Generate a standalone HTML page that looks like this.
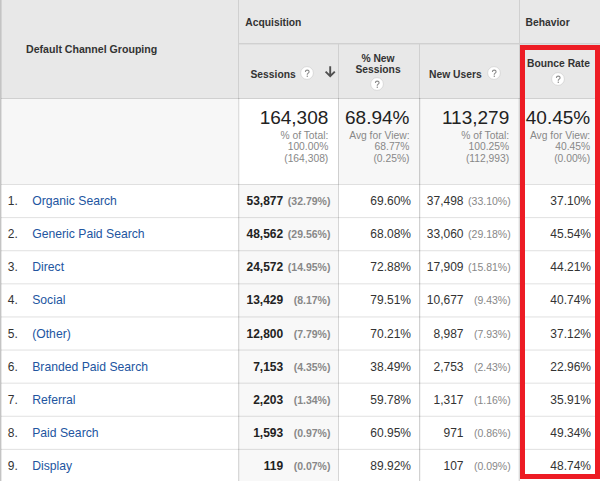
<!DOCTYPE html>
<html><head><meta charset="utf-8"><style>
html,body{margin:0;padding:0;}
body{width:600px;height:481px;position:relative;overflow:hidden;background:#fff;font-family:"Liberation Sans",sans-serif;}
.t{position:absolute;white-space:nowrap;}
</style></head><body>
<div style="position:absolute;left:0px;top:0px;width:600px;height:98px;background:#e8e8e8;"></div>
<div style="position:absolute;left:0px;top:98px;width:600px;height:86px;background:#f7f7f7;"></div>
<div style="position:absolute;left:238px;top:98px;width:100px;height:86px;background:#fff;"></div>
<div style="position:absolute;left:238px;top:184px;width:100px;height:297px;background:#f8f8f8;"></div>
<div style="position:absolute;left:238px;top:43px;width:362px;height:1px;background:#d0d0d0;"></div>
<div style="position:absolute;left:238px;top:44px;width:362px;height:1px;background:#dedede;"></div>
<div style="position:absolute;left:0px;top:98px;width:600px;height:1px;background:#d0d0d0;"></div>
<div style="position:absolute;left:238px;top:0px;width:1px;height:98px;background:#d0d0d0;"></div>
<div style="position:absolute;left:338px;top:44px;width:1px;height:54px;background:#d0d0d0;"></div>
<div style="position:absolute;left:419px;top:44px;width:1px;height:54px;background:#d0d0d0;"></div>
<div style="position:absolute;left:519px;top:0px;width:1px;height:98px;background:#d0d0d0;"></div>
<div style="position:absolute;left:238px;top:98px;width:1px;height:383px;background:rgba(0,0,0,0.13);"></div>
<div style="position:absolute;left:239px;top:98px;width:1px;height:383px;background:rgba(0,0,0,0.04);"></div>
<div style="position:absolute;left:338px;top:98px;width:1px;height:383px;background:rgba(0,0,0,0.16);"></div>
<div style="position:absolute;left:419px;top:98px;width:1px;height:383px;background:rgba(0,0,0,0.18);"></div>
<div style="position:absolute;left:420px;top:98px;width:1px;height:383px;background:rgba(0,0,0,0.04);"></div>
<div style="position:absolute;left:518px;top:98px;width:1px;height:383px;background:rgba(0,0,0,0.05);"></div>
<div style="position:absolute;left:519px;top:98px;width:1px;height:383px;background:rgba(0,0,0,0.14);"></div>
<div style="position:absolute;left:0px;top:184px;width:600px;height:1px;background:rgba(0,0,0,0.120);"></div>
<div style="position:absolute;left:0px;top:217px;width:600px;height:1px;background:rgba(0,0,0,0.107);"></div>
<div style="position:absolute;left:0px;top:218px;width:600px;height:1px;background:rgba(0,0,0,0.013);"></div>
<div style="position:absolute;left:0px;top:250px;width:600px;height:1px;background:rgba(0,0,0,0.094);"></div>
<div style="position:absolute;left:0px;top:251px;width:600px;height:1px;background:rgba(0,0,0,0.026);"></div>
<div style="position:absolute;left:0px;top:283px;width:600px;height:1px;background:rgba(0,0,0,0.080);"></div>
<div style="position:absolute;left:0px;top:284px;width:600px;height:1px;background:rgba(0,0,0,0.040);"></div>
<div style="position:absolute;left:0px;top:316px;width:600px;height:1px;background:rgba(0,0,0,0.067);"></div>
<div style="position:absolute;left:0px;top:317px;width:600px;height:1px;background:rgba(0,0,0,0.053);"></div>
<div style="position:absolute;left:0px;top:349px;width:600px;height:1px;background:rgba(0,0,0,0.054);"></div>
<div style="position:absolute;left:0px;top:350px;width:600px;height:1px;background:rgba(0,0,0,0.066);"></div>
<div style="position:absolute;left:0px;top:382px;width:600px;height:1px;background:rgba(0,0,0,0.041);"></div>
<div style="position:absolute;left:0px;top:383px;width:600px;height:1px;background:rgba(0,0,0,0.079);"></div>
<div style="position:absolute;left:0px;top:415px;width:600px;height:1px;background:rgba(0,0,0,0.028);"></div>
<div style="position:absolute;left:0px;top:416px;width:600px;height:1px;background:rgba(0,0,0,0.092);"></div>
<div style="position:absolute;left:0px;top:448px;width:600px;height:1px;background:rgba(0,0,0,0.014);"></div>
<div style="position:absolute;left:0px;top:449px;width:600px;height:1px;background:rgba(0,0,0,0.106);"></div>
<div style="position:absolute;left:0px;top:0px;width:1px;height:481px;background:#c4c4c4;"></div>
<div style="position:absolute;left:1px;top:0px;width:1px;height:481px;background:rgba(0,0,0,0.09);"></div>
<div class="t" style="left:26.00px;top:44.00px;font-size:10.6px;line-height:10.6px;font-weight:bold;color:#333;">Default Channel Grouping</div>
<div class="t" style="left:245.30px;top:18.00px;font-size:10.3px;line-height:10.3px;font-weight:bold;color:#333;">Acquisition</div>
<div class="t" style="left:525.60px;top:18.00px;font-size:10.3px;line-height:10.3px;font-weight:bold;color:#333;">Behavior</div>
<div class="t" style="left:250.50px;top:70.00px;font-size:10.3px;line-height:10.3px;font-weight:bold;color:#333;">Sessions</div>
<svg style="position:absolute;left:300.00px;top:65.70px" width="14" height="14" viewBox="-7 -7 14 14"><circle cx="0" cy="0" r="6.4" fill="#fff" stroke="#cfcfcf" stroke-width="0.7"/><g transform="translate(0.2,0.5) scale(0.95)"><path d="M-1.9,-1.6 C-1.9,-3.2 -0.9,-3.6 0,-3.6 C1.1,-3.6 2,-2.9 2,-1.8 C2,-0.6 0.3,-0.4 0.1,0.6 L0.1,1.3" fill="none" stroke="#8c8c8c" stroke-width="1.15"/><rect x="-0.55" y="2.2" width="1.3" height="1.4" fill="#8c8c8c"/></g></svg>
<svg style="position:absolute;left:324px;top:66px" width="12" height="12" viewBox="0 0 12 12"><path d="M6.2 0.2 V10 M1.6 5.6 L6.2 10.2 L10.8 5.6" stroke="#505050" stroke-width="1.9" fill="none"/></svg>
<div class="t" style="left:278.00px;width:200px;top:54.00px;font-size:10.3px;line-height:10.3px;font-weight:bold;color:#333;text-align:center;">% New</div>
<div class="t" style="left:278.00px;width:200px;top:65.00px;font-size:10.3px;line-height:10.3px;font-weight:bold;color:#333;text-align:center;">Sessions</div>
<svg style="position:absolute;left:370.00px;top:77.00px" width="14" height="14" viewBox="-7 -7 14 14"><circle cx="0" cy="0" r="6.4" fill="#fff" stroke="#cfcfcf" stroke-width="0.7"/><g transform="translate(0.2,0.5) scale(0.95)"><path d="M-1.9,-1.6 C-1.9,-3.2 -0.9,-3.6 0,-3.6 C1.1,-3.6 2,-2.9 2,-1.8 C2,-0.6 0.3,-0.4 0.1,0.6 L0.1,1.3" fill="none" stroke="#8c8c8c" stroke-width="1.15"/><rect x="-0.55" y="2.2" width="1.3" height="1.4" fill="#8c8c8c"/></g></svg>
<div class="t" style="left:429.00px;top:70.00px;font-size:10.3px;line-height:10.3px;font-weight:bold;color:#333;">New Users</div>
<svg style="position:absolute;left:487.00px;top:65.90px" width="14" height="14" viewBox="-7 -7 14 14"><circle cx="0" cy="0" r="6.4" fill="#fff" stroke="#cfcfcf" stroke-width="0.7"/><g transform="translate(0.2,0.5) scale(0.95)"><path d="M-1.9,-1.6 C-1.9,-3.2 -0.9,-3.6 0,-3.6 C1.1,-3.6 2,-2.9 2,-1.8 C2,-0.6 0.3,-0.4 0.1,0.6 L0.1,1.3" fill="none" stroke="#8c8c8c" stroke-width="1.15"/><rect x="-0.55" y="2.2" width="1.3" height="1.4" fill="#8c8c8c"/></g></svg>
<div class="t" style="left:458.50px;width:200px;top:59.00px;font-size:10.3px;line-height:10.3px;font-weight:bold;color:#333;text-align:center;">Bounce Rate</div>
<svg style="position:absolute;left:551.00px;top:71.90px" width="14" height="14" viewBox="-7 -7 14 14"><circle cx="0" cy="0" r="6.4" fill="#fff" stroke="#cfcfcf" stroke-width="0.7"/><g transform="translate(0.2,0.5) scale(0.95)"><path d="M-1.9,-1.6 C-1.9,-3.2 -0.9,-3.6 0,-3.6 C1.1,-3.6 2,-2.9 2,-1.8 C2,-0.6 0.3,-0.4 0.1,0.6 L0.1,1.3" fill="none" stroke="#8c8c8c" stroke-width="1.15"/><rect x="-0.55" y="2.2" width="1.3" height="1.4" fill="#8c8c8c"/></g></svg>
<div class="t" style="right:271.70px;top:108.00px;font-size:19px;line-height:19px;font-weight:normal;color:#222;text-align:right;">164,308</div>
<div class="t" style="right:271.70px;top:131.00px;font-size:10.3px;line-height:10.3px;font-weight:normal;color:#888;text-align:right;">% of Total:</div>
<div class="t" style="right:271.70px;top:142.00px;font-size:10.3px;line-height:10.3px;font-weight:normal;color:#888;text-align:right;">100.00%</div>
<div class="t" style="right:271.70px;top:154.00px;font-size:10.3px;line-height:10.3px;font-weight:normal;color:#888;text-align:right;">(164,308)</div>
<div class="t" style="right:190.50px;top:108.00px;font-size:19px;line-height:19px;font-weight:normal;color:#222;text-align:right;">68.94%</div>
<div class="t" style="right:190.50px;top:131.00px;font-size:10.3px;line-height:10.3px;font-weight:normal;color:#888;text-align:right;">Avg for View:</div>
<div class="t" style="right:190.50px;top:142.00px;font-size:10.3px;line-height:10.3px;font-weight:normal;color:#888;text-align:right;">68.77%</div>
<div class="t" style="right:190.50px;top:154.00px;font-size:10.3px;line-height:10.3px;font-weight:normal;color:#888;text-align:right;">(0.25%)</div>
<div class="t" style="right:90.80px;top:108.00px;font-size:19px;line-height:19px;font-weight:normal;color:#222;text-align:right;">113,279</div>
<div class="t" style="right:90.80px;top:131.00px;font-size:10.3px;line-height:10.3px;font-weight:normal;color:#888;text-align:right;">% of Total:</div>
<div class="t" style="right:90.80px;top:142.00px;font-size:10.3px;line-height:10.3px;font-weight:normal;color:#888;text-align:right;">100.25%</div>
<div class="t" style="right:90.80px;top:154.00px;font-size:10.3px;line-height:10.3px;font-weight:normal;color:#888;text-align:right;">(112,993)</div>
<div class="t" style="right:9.80px;top:108.00px;font-size:19px;line-height:19px;font-weight:normal;color:#222;text-align:right;">40.45%</div>
<div class="t" style="right:9.80px;top:131.00px;font-size:10.3px;line-height:10.3px;font-weight:normal;color:#888;text-align:right;">Avg for View:</div>
<div class="t" style="right:9.80px;top:142.00px;font-size:10.3px;line-height:10.3px;font-weight:normal;color:#888;text-align:right;">40.45%</div>
<div class="t" style="right:9.80px;top:154.00px;font-size:10.3px;line-height:10.3px;font-weight:normal;color:#888;text-align:right;">(0.00%)</div>
<div class="t" style="left:7.80px;top:195.00px;font-size:12px;line-height:12px;font-weight:normal;color:#333;">1.</div>
<div class="t" style="left:32.20px;top:195.00px;font-size:12.2px;line-height:12.2px;font-weight:normal;color:#22559f;">Organic Search</div>
<div class="t" style="right:316.80px;top:195.00px;font-size:12px;line-height:12px;font-weight:bold;color:#222;text-align:right;">53,877</div>
<div class="t" style="right:269.60px;top:196.00px;font-size:10.5px;line-height:10.5px;font-weight:bold;color:#888;text-align:right;">(32.79%)</div>
<div class="t" style="right:189.00px;top:195.00px;font-size:12px;line-height:12px;font-weight:normal;color:#333;text-align:right;">69.60%</div>
<div class="t" style="right:136.50px;top:195.00px;font-size:12px;line-height:12px;font-weight:normal;color:#333;text-align:right;">37,498</div>
<div class="t" style="right:89.30px;top:196.00px;font-size:10.5px;line-height:10.5px;font-weight:normal;color:#888;text-align:right;">(33.10%)</div>
<div class="t" style="right:9.00px;top:195.00px;font-size:12px;line-height:12px;font-weight:normal;color:#333;text-align:right;">37.10%</div>
<div class="t" style="left:7.80px;top:228.00px;font-size:12px;line-height:12px;font-weight:normal;color:#333;">2.</div>
<div class="t" style="left:32.20px;top:228.00px;font-size:12.2px;line-height:12.2px;font-weight:normal;color:#22559f;">Generic Paid Search</div>
<div class="t" style="right:316.80px;top:228.00px;font-size:12px;line-height:12px;font-weight:bold;color:#222;text-align:right;">48,562</div>
<div class="t" style="right:269.60px;top:229.00px;font-size:10.5px;line-height:10.5px;font-weight:bold;color:#888;text-align:right;">(29.56%)</div>
<div class="t" style="right:189.00px;top:228.00px;font-size:12px;line-height:12px;font-weight:normal;color:#333;text-align:right;">68.08%</div>
<div class="t" style="right:136.50px;top:228.00px;font-size:12px;line-height:12px;font-weight:normal;color:#333;text-align:right;">33,060</div>
<div class="t" style="right:89.30px;top:229.00px;font-size:10.5px;line-height:10.5px;font-weight:normal;color:#888;text-align:right;">(29.18%)</div>
<div class="t" style="right:9.00px;top:228.00px;font-size:12px;line-height:12px;font-weight:normal;color:#333;text-align:right;">45.54%</div>
<div class="t" style="left:7.80px;top:261.00px;font-size:12px;line-height:12px;font-weight:normal;color:#333;">3.</div>
<div class="t" style="left:32.20px;top:261.00px;font-size:12.2px;line-height:12.2px;font-weight:normal;color:#22559f;">Direct</div>
<div class="t" style="right:316.80px;top:261.00px;font-size:12px;line-height:12px;font-weight:bold;color:#222;text-align:right;">24,572</div>
<div class="t" style="right:269.60px;top:262.00px;font-size:10.5px;line-height:10.5px;font-weight:bold;color:#888;text-align:right;">(14.95%)</div>
<div class="t" style="right:189.00px;top:261.00px;font-size:12px;line-height:12px;font-weight:normal;color:#333;text-align:right;">72.88%</div>
<div class="t" style="right:136.50px;top:261.00px;font-size:12px;line-height:12px;font-weight:normal;color:#333;text-align:right;">17,909</div>
<div class="t" style="right:89.30px;top:262.00px;font-size:10.5px;line-height:10.5px;font-weight:normal;color:#888;text-align:right;">(15.81%)</div>
<div class="t" style="right:9.00px;top:261.00px;font-size:12px;line-height:12px;font-weight:normal;color:#333;text-align:right;">44.21%</div>
<div class="t" style="left:7.80px;top:294.00px;font-size:12px;line-height:12px;font-weight:normal;color:#333;">4.</div>
<div class="t" style="left:32.20px;top:294.00px;font-size:12.2px;line-height:12.2px;font-weight:normal;color:#22559f;">Social</div>
<div class="t" style="right:316.80px;top:294.00px;font-size:12px;line-height:12px;font-weight:bold;color:#222;text-align:right;">13,429</div>
<div class="t" style="right:269.60px;top:295.00px;font-size:10.5px;line-height:10.5px;font-weight:bold;color:#888;text-align:right;">(8.17%)</div>
<div class="t" style="right:189.00px;top:294.00px;font-size:12px;line-height:12px;font-weight:normal;color:#333;text-align:right;">79.51%</div>
<div class="t" style="right:136.50px;top:294.00px;font-size:12px;line-height:12px;font-weight:normal;color:#333;text-align:right;">10,677</div>
<div class="t" style="right:89.30px;top:295.00px;font-size:10.5px;line-height:10.5px;font-weight:normal;color:#888;text-align:right;">(9.43%)</div>
<div class="t" style="right:9.00px;top:294.00px;font-size:12px;line-height:12px;font-weight:normal;color:#333;text-align:right;">40.74%</div>
<div class="t" style="left:7.80px;top:328.00px;font-size:12px;line-height:12px;font-weight:normal;color:#333;">5.</div>
<div class="t" style="left:32.20px;top:328.00px;font-size:12.2px;line-height:12.2px;font-weight:normal;color:#22559f;">(Other)</div>
<div class="t" style="right:316.80px;top:328.00px;font-size:12px;line-height:12px;font-weight:bold;color:#222;text-align:right;">12,800</div>
<div class="t" style="right:269.60px;top:329.00px;font-size:10.5px;line-height:10.5px;font-weight:bold;color:#888;text-align:right;">(7.79%)</div>
<div class="t" style="right:189.00px;top:328.00px;font-size:12px;line-height:12px;font-weight:normal;color:#333;text-align:right;">70.21%</div>
<div class="t" style="right:136.50px;top:328.00px;font-size:12px;line-height:12px;font-weight:normal;color:#333;text-align:right;">8,987</div>
<div class="t" style="right:89.30px;top:329.00px;font-size:10.5px;line-height:10.5px;font-weight:normal;color:#888;text-align:right;">(7.93%)</div>
<div class="t" style="right:9.00px;top:328.00px;font-size:12px;line-height:12px;font-weight:normal;color:#333;text-align:right;">37.12%</div>
<div class="t" style="left:7.80px;top:361.00px;font-size:12px;line-height:12px;font-weight:normal;color:#333;">6.</div>
<div class="t" style="left:32.20px;top:361.00px;font-size:12.2px;line-height:12.2px;font-weight:normal;color:#22559f;">Branded Paid Search</div>
<div class="t" style="right:316.80px;top:361.00px;font-size:12px;line-height:12px;font-weight:bold;color:#222;text-align:right;">7,153</div>
<div class="t" style="right:269.60px;top:362.00px;font-size:10.5px;line-height:10.5px;font-weight:bold;color:#888;text-align:right;">(4.35%)</div>
<div class="t" style="right:189.00px;top:361.00px;font-size:12px;line-height:12px;font-weight:normal;color:#333;text-align:right;">38.49%</div>
<div class="t" style="right:136.50px;top:361.00px;font-size:12px;line-height:12px;font-weight:normal;color:#333;text-align:right;">2,753</div>
<div class="t" style="right:89.30px;top:362.00px;font-size:10.5px;line-height:10.5px;font-weight:normal;color:#888;text-align:right;">(2.43%)</div>
<div class="t" style="right:9.00px;top:361.00px;font-size:12px;line-height:12px;font-weight:normal;color:#333;text-align:right;">22.96%</div>
<div class="t" style="left:7.80px;top:394.00px;font-size:12px;line-height:12px;font-weight:normal;color:#333;">7.</div>
<div class="t" style="left:32.20px;top:394.00px;font-size:12.2px;line-height:12.2px;font-weight:normal;color:#22559f;">Referral</div>
<div class="t" style="right:316.80px;top:394.00px;font-size:12px;line-height:12px;font-weight:bold;color:#222;text-align:right;">2,203</div>
<div class="t" style="right:269.60px;top:395.00px;font-size:10.5px;line-height:10.5px;font-weight:bold;color:#888;text-align:right;">(1.34%)</div>
<div class="t" style="right:189.00px;top:394.00px;font-size:12px;line-height:12px;font-weight:normal;color:#333;text-align:right;">59.78%</div>
<div class="t" style="right:136.50px;top:394.00px;font-size:12px;line-height:12px;font-weight:normal;color:#333;text-align:right;">1,317</div>
<div class="t" style="right:89.30px;top:395.00px;font-size:10.5px;line-height:10.5px;font-weight:normal;color:#888;text-align:right;">(1.16%)</div>
<div class="t" style="right:9.00px;top:394.00px;font-size:12px;line-height:12px;font-weight:normal;color:#333;text-align:right;">35.91%</div>
<div class="t" style="left:7.80px;top:427.00px;font-size:12px;line-height:12px;font-weight:normal;color:#333;">8.</div>
<div class="t" style="left:32.20px;top:427.00px;font-size:12.2px;line-height:12.2px;font-weight:normal;color:#22559f;">Paid Search</div>
<div class="t" style="right:316.80px;top:427.00px;font-size:12px;line-height:12px;font-weight:bold;color:#222;text-align:right;">1,593</div>
<div class="t" style="right:269.60px;top:428.00px;font-size:10.5px;line-height:10.5px;font-weight:bold;color:#888;text-align:right;">(0.97%)</div>
<div class="t" style="right:189.00px;top:427.00px;font-size:12px;line-height:12px;font-weight:normal;color:#333;text-align:right;">60.95%</div>
<div class="t" style="right:136.50px;top:427.00px;font-size:12px;line-height:12px;font-weight:normal;color:#333;text-align:right;">971</div>
<div class="t" style="right:89.30px;top:428.00px;font-size:10.5px;line-height:10.5px;font-weight:normal;color:#888;text-align:right;">(0.86%)</div>
<div class="t" style="right:9.00px;top:427.00px;font-size:12px;line-height:12px;font-weight:normal;color:#333;text-align:right;">49.34%</div>
<div class="t" style="left:7.80px;top:460.00px;font-size:12px;line-height:12px;font-weight:normal;color:#333;">9.</div>
<div class="t" style="left:32.20px;top:460.00px;font-size:12.2px;line-height:12.2px;font-weight:normal;color:#22559f;">Display</div>
<div class="t" style="right:316.80px;top:460.00px;font-size:12px;line-height:12px;font-weight:bold;color:#222;text-align:right;">119</div>
<div class="t" style="right:269.60px;top:461.00px;font-size:10.5px;line-height:10.5px;font-weight:bold;color:#888;text-align:right;">(0.07%)</div>
<div class="t" style="right:189.00px;top:460.00px;font-size:12px;line-height:12px;font-weight:normal;color:#333;text-align:right;">89.92%</div>
<div class="t" style="right:136.50px;top:460.00px;font-size:12px;line-height:12px;font-weight:normal;color:#333;text-align:right;">107</div>
<div class="t" style="right:89.30px;top:461.00px;font-size:10.5px;line-height:10.5px;font-weight:normal;color:#888;text-align:right;">(0.09%)</div>
<div class="t" style="right:9.00px;top:460.00px;font-size:12px;line-height:12px;font-weight:normal;color:#333;text-align:right;">48.74%</div>
<div style="position:absolute;left:520px;top:45px;width:70px;height:424px;border:5px solid #ed1c24;"></div>
</body></html>
